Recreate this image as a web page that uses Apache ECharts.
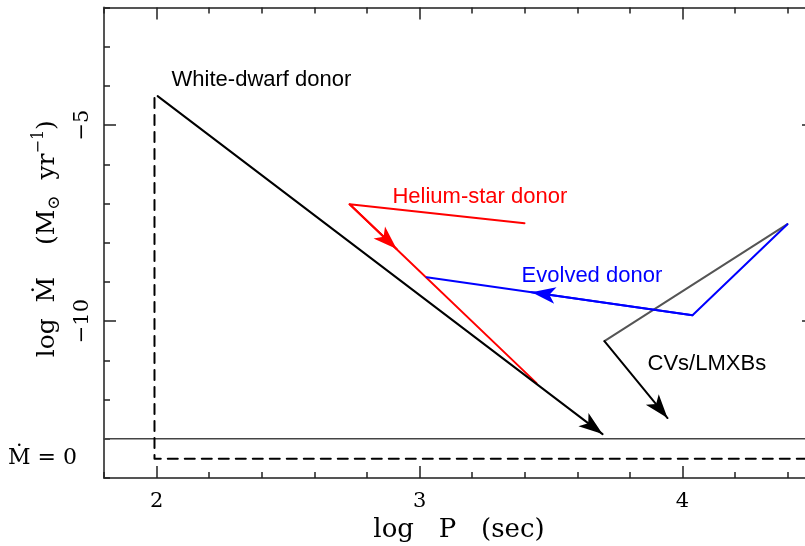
<!DOCTYPE html>
<html>
<head>
<meta charset="utf-8">
<script src="https://cdn.jsdelivr.net/npm/echarts@6/dist/echarts.min.js"></script>
<style>
html,body{margin:0;padding:0;background:#fff;}
#chart{width:805px;height:546px;}
</style>
</head>
<body>
<div id="chart"></div>
<script>
// ---- axis ranges / ticks ----
const xRange = [1.8, 4.5];
const yRange = [-14, -2];
const xMajorTicks = [2, 3, 4];
const yMajorTicks = [-10, -5];
const zeroRateLevel = -13;      // solid "Mdot = 0" reference line
const zeroLabelLevel = -13.5;   // level of the "Mdot = 0" label / dashed track

// ---- tracks (log P, log Mdot); arrow segments end at the arrow tip ----
const wdDashed = [[1.992, -4.31], [1.992, -13.51], [4.5, -13.51]];
const wdSolid = [[2.004, -4.26], [3.696, -12.88]];
const heliumTrack = [[3.399, -7.50], [2.734, -7.02], [3.445, -11.58]];
const heliumArrow = [[2.734, -7.02], [2.913, -8.16]];
const evolvedTrack = [[4.399, -7.526], [4.038, -9.847], [3.027, -8.878]];
const evolvedArrow = [[4.038, -9.847], [3.426, -9.26]];
const cvGrey = [[4.399, -7.526], [3.703, -10.51]];
const cvArrow = [[3.703, -10.51], [3.943, -12.47]];

// ---- annotations ----
const labelTexts = ['White-dwarf donor', 'Helium-star donor', 'Evolved donor', 'CVs/LMXBs'];
const labelColors = ['#000000', '#ff0000', '#0000ff', '#000000'];
const labelAnchors = [[2.057, -3.85], [2.897, -6.84], [3.388, -8.85], [3.867, -11.10]];

const serif = '"DejaVu Serif", "Liberation Serif", serif';
const sans = '"Liberation Sans", Arial, Helvetica, sans-serif';
const frameColor = '#555';
const tickColor = '#222';

function minorAxis(pos, isX) {
  return {
    type: 'value', position: pos,
    min: isX ? xRange[0] : yRange[0], max: isX ? xRange[1] : yRange[1],
    interval: isX ? 0.2 : 1,
    axisLine: {show: true, lineStyle: {color: frameColor, width: 2}},
    axisTick: {show: true, inside: true, length: 6, lineStyle: {color: tickColor, width: 1.5}},
    axisLabel: {show: false}, splitLine: {show: false}
  };
}
function majorAxis(pos, isX, withLabels) {
  const ticks = isX ? xMajorTicks : yMajorTicks;
  return {
    type: 'value', position: pos,
    min: isX ? xRange[0] : yRange[0], max: isX ? xRange[1] : yRange[1],
    axisLine: {show: false},
    axisTick: {show: true, inside: true, length: 12, customValues: ticks, lineStyle: {color: tickColor, width: 1.5}},
    axisLabel: withLabels ? {
      show: true, customValues: ticks, color: '#000',
      fontFamily: serif, fontSize: 21,
      rotate: isX ? 0 : 90, margin: isX ? 13 : 11,
      formatter: v => (v < 0 ? '\u2212' + Math.abs(v) : String(v))
    } : {show: false},
    splitLine: {show: false}
  };
}

const xAxes = [
  minorAxis('bottom', true),
  Object.assign(majorAxis('bottom', true, true), {
    name: 'log   P   (sec)', nameLocation: 'middle', nameGap: 30,
    nameTextStyle: {fontFamily: serif, fontSize: 26, color: '#000'}
  }),
  minorAxis('top', true),
  majorAxis('top', true, false)
];
const yAxes = [
  minorAxis('left', false),
  Object.assign(majorAxis('left', false, true), {
    name: '{a|log  \u1E40    (M}{sub|\u2299}{a|  yr}{sup|\u22121}{a|)}',
    nameLocation: 'middle', nameRotate: 90, nameGap: 41,
    nameTextStyle: {
      color: '#000', padding: [0, 0, 0, 8],
      rich: {
        a: {fontFamily: serif, fontSize: 25, lineHeight: 32, color: '#000'},
        sub: {fontFamily: serif, fontSize: 17, lineHeight: 14, verticalAlign: 'bottom', color: '#000'},
        sup: {fontFamily: serif, fontSize: 16, lineHeight: 14, verticalAlign: 'top', color: '#000'}
      }
    }
  }),
  minorAxis('right', false),
  majorAxis('right', false, false),
  {
    type: 'value', position: 'left', min: yRange[0], max: yRange[1],
    axisLine: {show: false}, axisTick: {show: false}, splitLine: {show: false},
    axisLabel: {show: true, customValues: [zeroLabelLevel], margin: 27, color: '#000',
      fontFamily: serif, fontSize: 22, formatter: () => '\u1E40 = 0'}
  }
];

function plainLine(data, color, width, type) {
  return {
    type: 'line', xAxisIndex: 0, yAxisIndex: 0, data: data,
    showSymbol: false, symbol: 'none', silent: true,
    lineStyle: {color: color, width: width, type: type || 'solid', cap: 'round', join: 'round', opacity: 1},
    z: 3
  };
}
function arrowLine(coords, color, width) {
  return {
    type: 'lines', coordinateSystem: 'cartesian2d', xAxisIndex: 0, yAxisIndex: 0,
    polyline: false, silent: true,
    symbol: ['none', 'arrow'], symbolSize: [[12.5, 24], [12.5, 24]],
    lineStyle: {color: color, width: width, opacity: 1, curveness: 0, cap: 'round'},
    data: [{coords: coords}],
    z: 4
  };
}

const series = [
  plainLine([[xRange[0], zeroRateLevel], [xRange[1], zeroRateLevel]], '#444', 1.5),
  plainLine(wdDashed, '#000', 2, [10, 7]),
  arrowLine(wdSolid, '#000', 2),
  plainLine(heliumTrack, '#ff0000', 2),
  arrowLine(heliumArrow, '#ff0000', 2),
  plainLine(cvGrey, '#555555', 2),
  plainLine(evolvedTrack, '#0000ff', 2),
  arrowLine(evolvedArrow, '#0000ff', 2),
  arrowLine(cvArrow, '#000', 2),
  {
    type: 'scatter', xAxisIndex: 0, yAxisIndex: 0, symbolSize: 0, silent: true, z: 5,
    itemStyle: {opacity: 1},
    data: labelTexts.map((t, i) => ({
      value: labelAnchors[i], name: t,
      label: {show: true, position: 'right', distance: 0, formatter: t, opacity: 1,
        color: labelColors[i], fontFamily: sans, fontSize: 22}
    }))
  }
];

const chart = echarts.init(document.getElementById('chart'), null, {renderer: 'canvas'});
chart.setOption({
  animation: false,
  backgroundColor: '#fff',
  grid: {left: 104, top: 7.5, width: 710, height: 470.5, containLabel: false, outerBoundsMode: 'none'},
  xAxis: xAxes,
  yAxis: yAxes,
  series: series
});
</script>
</body>
</html>
